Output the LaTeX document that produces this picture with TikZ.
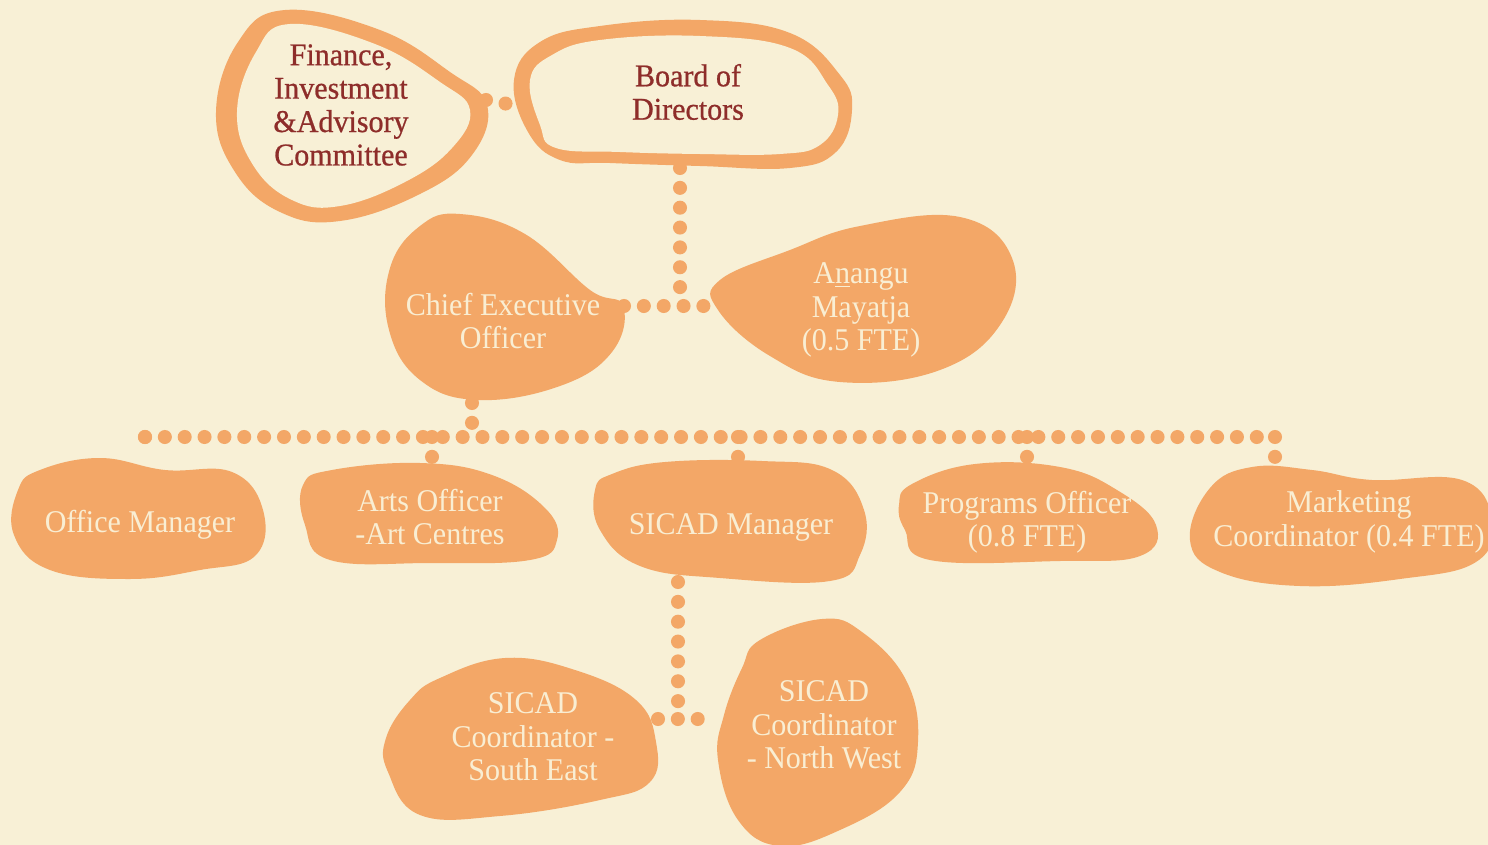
\documentclass[tikz,border=0pt]{standalone}
\usepackage{fontspec}
\setmainfont{Liberation Serif}[FakeStretch=0.95]
\newfontfamily\headfont{Liberation Serif}[FakeStretch=0.95, FakeBold=0.7]
\usepackage{tikz}
\usetikzlibrary{positioning}

\definecolor{paper}{HTML}{F8F0D6}
\definecolor{apricot}{HTML}{F3A767}
\definecolor{cream}{HTML}{F9EED3}
\definecolor{rust}{HTML}{8E2D2A}

\tikzset{
  blob/.style={fill=apricot, draw=none},
  hole/.style={fill=paper, draw=none},
  lbl/.style={text=cream, align=center, inner sep=0pt, font=\fontsize{18}{19}\selectfont},
  toplbl/.style={lbl, text=rust, font=\fontsize{18}{19}\selectfont\headfont},
  dots/.style={draw=apricot, line width=8pt, line cap=round, dash pattern=on 0pt off 11.3pt},
}

\begin{document}
\begin{tikzpicture}[x=0.02cm, y=-0.02cm]
\fill[paper] (0,0) rectangle (1488,845);
\useasboundingbox (0,0) rectangle (1488,845);

% committee and board: outlined blobs
\fill[blob] plot[smooth cycle, tension=0.7] coordinates {(285,10) (380,30) (450,72) (487,105) (472,155) (420,194) (340,221) (280,212) (235,172) (216,112) (238,42)};
\fill[hole] plot[smooth cycle, tension=0.7] coordinates {(290,24) (375,44) (440,82) (470,110) (452,148) (405,182) (340,206) (292,200) (253,165) (237,112) (256,52)};
\fill[blob] plot[smooth cycle, tension=0.7] coordinates {(600,26) (700,20) (790,33) (840,75) (852,110) (836,152) (790,168) (700,166) (610,163) (560,160) (528,132) (514,80) (540,42)};
\fill[hole] plot[smooth cycle, tension=0.7] coordinates {(600,40) (700,36) (790,48) (828,85) (838,115) (820,145) (780,154) (700,154) (620,152) (556,148) (540,125) (530,80) (552,55)};
\node[toplbl] (fin) at (341,105) {Finance,\\Investment\\\&Advisory\\Committee};
\node[toplbl] (board) at (688,92) {Board of\\Directors};

% executive level
\fill[blob] plot[smooth cycle, tension=0.7] coordinates {(460,214) (525,234) (590,290) (623,306) (612,352) (560,386) (478,400) (420,380) (389,330) (390,268) (420,226)};
\fill[blob] plot[smooth cycle, tension=0.7] coordinates {(720,280) (790,250) (860,226) (960,217) (1012,258) (1002,322) (940,370) (840,382) (770,356) (718,310)};
\node[lbl] (ceo) at (503,321) {Chief Executive\\Officer};
\node[lbl] (anangu) at (861,310) {A\underline{n}angu\\Mayatja\\(0.5 FTE)};

% staff row
\fill[blob] plot[smooth cycle, tension=0.7] coordinates {(40,470) (100,458) (165,470) (232,472) (263,510) (255,556) (200,570) (130,579) (50,570) (14,535) (18,490)};
\fill[blob] plot[smooth cycle, tension=0.7] coordinates {(332,470) (420,463) (492,475) (545,508) (557,540) (530,560) (430,563) (330,560) (305,525) (303,485)};
\fill[blob] plot[smooth cycle, tension=0.7] coordinates {(612,474) (665,462) (762,461) (832,470) (864,510) (860,555) (830,581) (720,578) (640,566) (600,530) (595,490)};
\fill[blob] plot[smooth cycle, tension=0.7] coordinates {(912,484) (975,464) (1060,467) (1117,490) (1156,525) (1140,556) (1060,561) (930,560) (905,530) (899,505)};
\fill[blob] plot[smooth cycle, tension=0.7] coordinates {(1210,488) (1252,467) (1312,470) (1372,480) (1462,480) (1492,520) (1476,562) (1400,579) (1300,586) (1220,572) (1190,540)};
\node[lbl] (office) at (140,525) {Office Manager};
\node[lbl] (arts) at (430,517) {Arts Officer\\-Art Centres};
\node[lbl] (sicad) at (731,527) {SICAD Manager};
\node[lbl] (prog) at (1027,522) {Programs Officer\\(0.8 FTE)};
\node[lbl] (mkt) at (1349,522) {Marketing\\Coordinator (0.4 FTE)};

% coordinators
\fill[blob] plot[smooth cycle, tension=0.7] coordinates {(440,678) (505,658) (575,670) (636,700) (656,742) (650,782) (600,800) (500,816) (420,815) (388,772) (386,738) (410,700)};
\fill[blob] plot[smooth cycle, tension=0.7] coordinates {(760,640) (822,619) (862,632) (906,680) (918,742) (900,792) (840,830) (780,846) (738,820) (718,760) (724,715) (742,668)};
\node[lbl] (se) at (533,737) {SICAD\\Coordinator -\\South East};
\node[lbl] (nw) at (824,725) {SICAD\\Coordinator\\- North West};

% end points of the dotted links
\coordinate (fin-e) at (486,100);
\coordinate (board-w) at (508,104);
\coordinate (board-s) at (680,168);
\coordinate (ceo-e) at (624,306);
\coordinate (anangu-w) at (714,306);
\coordinate (ceo-s) at (472,403);
\coordinate (bus-l) at (145,437);
\coordinate (bus-r) at (1276,437);
\coordinate (office-n) at (145,456);
\coordinate (arts-n) at (432,460);
\coordinate (sicad-n) at (738,462);
\coordinate (prog-n) at (1027,462);
\coordinate (mkt-n) at (1275,464);
\coordinate (sicad-s) at (678,582);
\coordinate (se-e) at (658,719);
\coordinate (nw-w) at (716,719);

\draw[dots] (fin-e) -- (board-w);
\draw[dots] (board-s) -- (board-s |- ceo-e);
\draw[dots] (ceo-e) -- (anangu-w);
\draw[dots] (ceo-s) -- (ceo-s |- bus-l);
\draw[dots] (bus-l) -- (bus-r);
\foreach \n in {office,arts,sicad,prog,mkt}
  \draw[dots] (\n-n |- bus-l) -- (\n-n);
\draw[dots] (sicad-s) -- (sicad-s |- se-e);
\draw[dots] (se-e) -- (nw-w);
\end{tikzpicture}
\end{document}
